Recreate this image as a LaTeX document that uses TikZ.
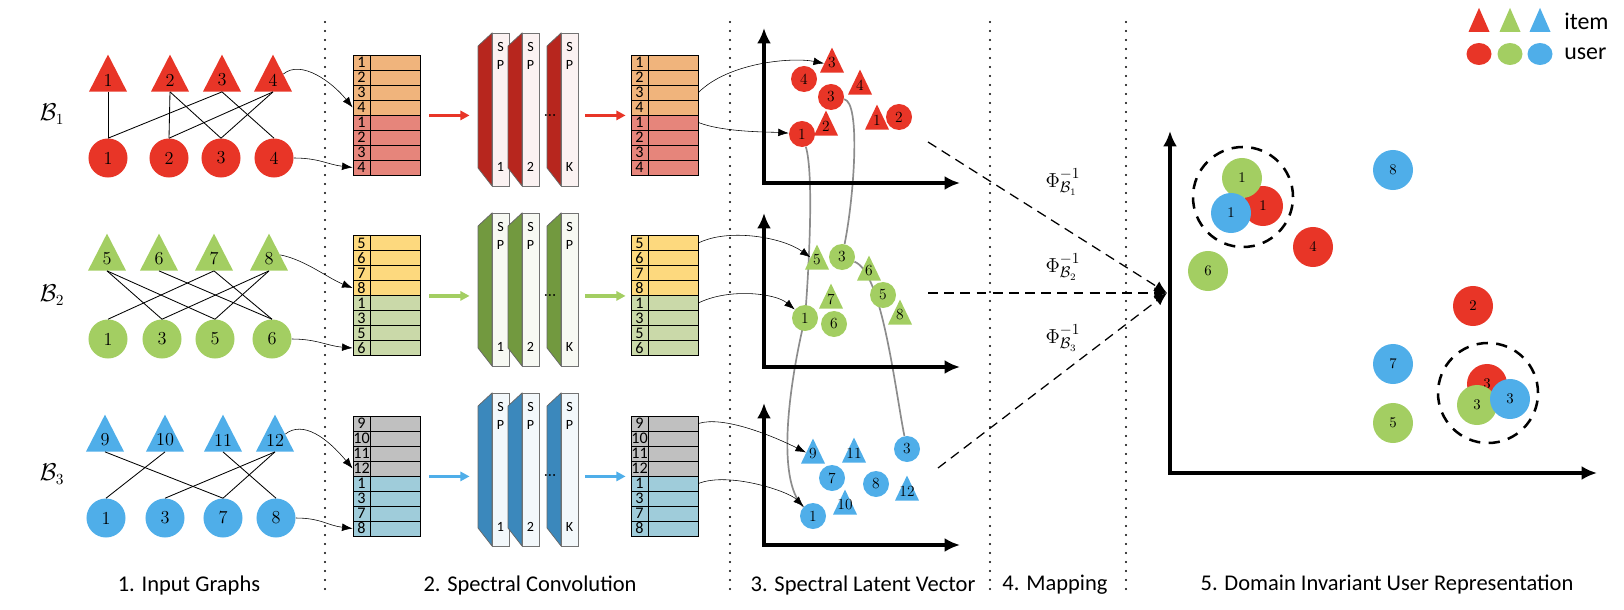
\documentclass[tikz,border=0pt]{standalone}
\usepackage{fontspec}
\newfontfamily\calfont{Carlito}
\usetikzlibrary{arrows.meta,shapes.geometric}
\definecolor{cred}{HTML}{E83527}
\definecolor{cgreen}{HTML}{A3CE62}
\definecolor{cblue}{HTML}{4FAEE9}
\definecolor{tabA1}{HTML}{F0B47C}
\definecolor{tabB1}{HTML}{E6857B}
\definecolor{tabA2}{HTML}{FDD97E}
\definecolor{tabB2}{HTML}{CAD9A9}
\definecolor{tabA3}{HTML}{C0C0C0}
\definecolor{tabB3}{HTML}{9FCCDA}
\definecolor{slab1}{HTML}{B7261E}
\definecolor{slab2}{HTML}{72993F}
\definecolor{slab3}{HTML}{3B88BC}
\pgfdeclarelayer{back}
\pgfsetlayers{back,main}
\begin{document}
\begin{tikzpicture}[x=0.025cm,y=-0.025cm,>={Latex[length=7.5pt,width=5.5pt]},
	tri/.style={isosceles triangle,shape border rotate=90,isosceles triangle stretches,inner sep=0pt,fill=#1},
	item/.style 2 args={tri=#1,minimum width=0.95cm,minimum height=0.925cm,label={[tnum]center:#2}},
	litem/.style 2 args={tri=#1,minimum width=0.6cm,minimum height=0.625cm,label={[lnum]center:#2}},
	keyitem/.style={tri=#1,minimum width=0.525cm,minimum height=0.6cm},
	tnum/.style={inner sep=0pt,font=\fontsize{13}{15}\selectfont},
	lnum/.style={inner sep=0pt,yshift=0.05cm,font=\fontsize{11}{13}\selectfont},
	user/.style={circle,fill=#1,inner sep=0pt,minimum size=0.975cm,font=\fontsize{13}{15}\selectfont},
	luser/.style={circle,fill=#1,inner sep=0pt,minimum size=0.65cm,font=\fontsize{11}{13}\selectfont},
	duser/.style={circle,fill=#1,inner sep=0pt,minimum size=1cm,font=\fontsize{10.5}{12}\selectfont},
	keyuser/.style={ellipse,fill=#1,inner sep=0pt,minimum width=0.625cm,minimum height=0.55cm},
	edge/.style={line width=0.6pt},
	cell/.style={draw,fill=#1,line width=0.6pt,inner sep=0pt,minimum height=0.375cm,font=\calfont\fontsize{11.5}{12}\selectfont},
	sp/.style={draw=black!55,fill=white!94!#1,line width=0.6pt,inner sep=0pt,minimum width=0.425cm,minimum height=3.825cm},
	sptext/.style={inner sep=0pt,font=\calfont\fontsize{10}{11}\selectfont},
	flow/.style={line width=2.6pt,color=#1,-{Triangle[length=6.5pt,width=6.5pt]}},
	axis/.style={line width=2.8pt,line join=miter,{Latex[length=11pt,width=10pt]}-{Latex[length=11pt,width=10pt]}},
	sep/.style={line width=1.5pt,line cap=round,dash pattern=on 0pt off 6.4pt},
	map/.style={line width=0.9pt,dash pattern=on 7pt off 4.5pt,-{Latex[length=9pt,width=8pt]}},
	share/.style={draw=black!45,line width=1.2pt},
	group/.style={circle,draw,line width=1.8pt,dash pattern=on 8pt off 6pt,minimum size=2.5cm},
	caption/.style={font=\calfont\fontsize{16}{18}\selectfont},
	legend/.style={inner sep=0pt,font=\calfont\fontsize{17}{19}\selectfont}
	]
	\useasboundingbox (0,0) rectangle (1624,610);
	\foreach \x in {325,730,990,1126}
		\draw[sep] (\x,22) -- (\x,590);
	\foreach \b/\c/\yi/\yu/\il/\ul in {
		1/cred/80/158/{108/1,170/2,222/3,273/4}/{108/1,169/2,221/3,274/4},
		2/cgreen/259/339/{107/5,159/6,214/7,269/8}/{108/1,162/3,215/5,272/6},
		3/cblue/440/518/{105/9,165/10,223/11,275/12}/{106/1,165/3,223/7,276/8}} {
		\foreach \x/\n in \il
			\node[item={\c}{\n}] (g\b-i\n) at (\x,\yi) {};
		\foreach \x/\n in \ul
			\node[user=\c] (g\b-u\n) at (\x,\yu) {\n};
		\node[font=\fontsize{16}{18}\selectfont] (lbl\b) at (52,\yu-44) {$\mathcal{B}_\b$};
	}
	\foreach \b/\e in {1/{1/1,2/2,2/3,3/1,3/4,4/2,4/3},2/{5/3,5/5,6/6,7/1,7/6,8/3,8/5},3/{9/7,10/1,11/8,12/3,12/7}}
		\foreach \i/\u in \e
			\draw[edge] (g\b-i\i.south) -- (g\b-u\u.north);
	\foreach \b/\yt/\ca/\cb/\lst in {1/55/tabA1/tabB1/{1,2,3,4,1,2,3,4},2/235.5/tabA2/tabB2/{5,6,7,8,1,3,5,6},3/416/tabA3/tabB3/{9,10,11,12,1,3,7,8}}
		\foreach \n [count=\r] in \lst {
			\ifnum\r<5 \colorlet{rowc}{\ca}\else\colorlet{rowc}{\cb}\fi
			\node[cell=rowc,minimum width=0.425cm] (in\b-n\r) at (361.5,\yt+15*\r-7.5) {\n};
			\node[cell=rowc,minimum width=1.25cm] (in\b-d\r) at (395,\yt+15*\r-7.5) {};
			\node[cell=rowc,minimum width=0.425cm] (out\b-n\r) at (639.5,\yt+15*\r-7.5) {\n};
			\node[cell=rowc,minimum width=1.25cm] (out\b-d\r) at (673,\yt+15*\r-7.5) {};
		}
	\foreach \b/\yo/\cs in {1/33/slab1,2/213/slab2,3/393/slab3} {
		\foreach \dx/\k in {0/1,30/2,69/K} {
			\filldraw[fill=\cs,draw=black!60,line width=0.5pt] (478+\dx,\yo+13) -- (492+\dx,\yo) -- (492+\dx,\yo+153) -- (478+\dx,\yo+135) -- cycle;
			\node[sp=\cs] (sp\b-\k) at (500.5+\dx,\yo+76.5) {};
			\node[sptext] at (500.5+\dx,\yo+14) {S};
			\node[sptext] at (500.5+\dx,\yo+32) {P};
			\node[sptext] at (500.5+\dx,\yo+134) {\k};
		}
		\node[inner sep=0pt,font=\fontsize{9}{10}\selectfont\bfseries] (dots\b) at (550,\yo+83) {...};
	}
	\foreach \b/\c in {1/cred,2/cgreen,3/cblue} {
		\draw[flow=\c,shorten <=0.225cm,shorten >=0.55cm] (in\b-d4.south east) -- (sp\b-1.west |- in\b-d4.south east);
		\draw[flow=\c,shorten <=0.175cm,shorten >=0.125cm] (sp\b-K.east |- out\b-n4.south west) -- (out\b-n4.south west);
	}
	\draw[->] (g1-i4.30) .. controls +(18,-15) and +(-20,-25) .. (in1-n4.west);
	\draw[->] (g1-u4.east) .. controls +(25,0) and +(-25,-3) .. (in1-n8.west);
	\draw[->] (g2-i8.20) .. controls +(25,5) and +(-25,-10) .. (in2-n4.west);
	\draw[->] (g2-u6.east) .. controls +(25,0) and +(-25,-2) .. (in2-n8.west);
	\draw[->] (g3-i12.30) .. controls +(18,-14) and +(-25,-30) .. (in3-n4.west);
	\draw[->] (g3-u8.east) .. controls +(25,0) and +(-25,-3) .. (in3-n8.west);
	\foreach \yo/\yt in {183/28,367/213,545/403}
		\draw[axis] (764,\yt) -- (764,\yo) -- (960,\yo);
	\foreach \b/\c/\il/\ul in {
		1/cred/{832/65/3,860/87/4,826/128/2,877/122/1}/{804/79/4,831/97/3,802/134/1,899/117/2},
		2/cgreen/{817/262/5,869/273/6,900/317/8,831/301/7}/{842/257/3,883/295/5,805/318/1,834/324/6},
		3/cblue/{813/456/9,854/455/11,907/493/12,845/507/10}/{907/449/3,832/478/7,876/484/8,813/516/1}} {
		\foreach \x/\y/\n in \il
			\node[litem={\c}{\n}] (lat\b-i\n) at (\x,\y) {};
		\foreach \x/\y/\n in \ul
			\node[luser=\c] (lat\b-u\n) at (\x,\y) {\n};
	}
	\begin{pgfonlayer}{back}
		\draw[share] (lat1-u1) .. controls +(12,40) and +(4,-50) .. (lat2-u1.center) .. controls +(-15,62) and +(-38,-36) .. (lat3-u1);
		\draw[share] (lat1-u3) .. controls +(30,5) and +(12,-60) .. (lat2-u3);
		\draw[share] (lat2-u3) .. controls +(40,15) and +(-12,-60) .. (lat3-u3);
	\end{pgfonlayer}
	\draw[->] (out1-d3.east) .. controls +(30,-30) and +(-40,-8) .. (lat1-i3);
	\draw[->] (out1-d5.east) .. controls +(25,10) and +(-30,-2) .. (lat1-u1);
	\draw[->] (out2-d1.east) .. controls +(30,-15) and +(-35,-25) .. (lat2-i5);
	\draw[->] (out2-d5.east) .. controls +(30,-15) and +(-30,-25) .. (lat2-u1);
	\draw[->] (out3-d1.east) .. controls +(25,-8) and +(-40,-20) .. (lat3-i9);
	\draw[->] (out3-d5.east) .. controls +(30,-12) and +(-25,-25) .. (lat3-u1);
	\coordinate (m1) at (928,142);
	\coordinate (m2) at (928,293);
	\coordinate (m3) at (938,468);
	\coordinate (jn) at (1167,293);
	\foreach \m in {m1,m2,m3}
		\draw[map] (\m) -- (jn);
	\foreach \b/\y in {1/182,2/267,3/338}
		\node[font=\fontsize{15}{18}\selectfont] (phi\b) at (1063,\y) {$\Phi^{-1}_{\mathcal{B}_\b}$};
	\draw[axis] (1170,131) -- (1170,473) -- (1597,473);
	\foreach \c/\x/\y/\n in {cred/1263/206/1,cgreen/1242/178/1,cblue/1231/213/1,cblue/1393/170/8,cred/1313/247/4,cgreen/1208/271/6,cred/1473/306/2,cblue/1393/364/7,cgreen/1393/423/5,cred/1487/384/3,cgreen/1477/405/3,cblue/1510/399/3}
		\node[duser=\c] (dom-\c\n) at (\x,\y) {\n};
	\node[group] (grp1) at (1243,197) {};
	\node[group] (grp3) at (1488,393) {};
	\foreach \c/\x in {cred/1479,cgreen/1510,cblue/1540} {
		\node[keyitem=\c] (key-i-\c) at (\x,25) {};
		\node[keyuser=\c] (key-u-\c) at (\x,54) {};
	}
	\node[legend,anchor=west] (key-item) at (1564,21) {item};
	\node[legend,anchor=west] (key-user) at (1564,54) {user};
	\node[caption] (cap1) at (189,585) {1. Input Graphs};
	\node[caption] (cap2) at (530,585) {2. Spectral Convolution};
	\node[caption] (cap3) at (863,585) {3. Spectral Latent Vector};
	\node[caption] (cap4) at (1055,585) {4. Mapping};
	\node[caption] (cap5) at (1387,585) {5. Domain Invariant User Representation};
\end{tikzpicture}
\end{document}
